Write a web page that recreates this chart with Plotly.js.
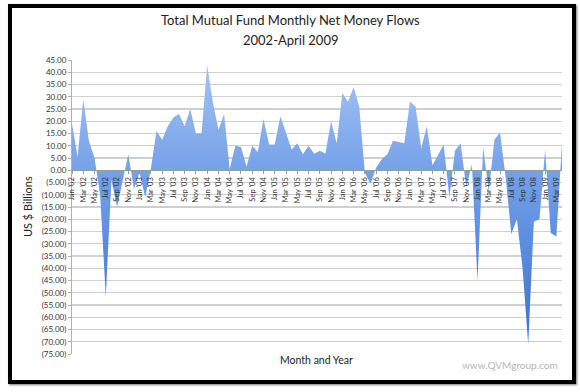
<!DOCTYPE html>
<html>
<head>
<meta charset="utf-8">
<script src="https://cdn.plot.ly/plotly-3.0.1.min.js"></script>
<style>
  html, body { margin: 0; padding: 0; background: #ffffff; }
  #wrap { position: relative; width: 580px; height: 392px; overflow: hidden; }
  #chart { position: absolute; left: 0; top: 0; width: 580px; height: 392px; }
  #frame { position: absolute; left: 8px; top: 4px; width: 560px; height: 372px;
           border: 4px solid #000; pointer-events: none; box-shadow: 1px 1px 2px #777; }
</style>
</head>
<body>
<div id="wrap">
  <div id="chart"></div>
  <div id="frame"></div>
</div>
<script>
// Month categories (Jan '02 .. Apr '09)
const months = [
  "Jan '02","Feb '02","Mar '02","Apr '02","May '02","Jun '02","Jul '02","Aug '02","Sep '02","Oct '02","Nov '02","Dec '02",
  "Jan '03","Feb '03","Mar '03","Apr '03","May '03","Jun '03","Jul '03","Aug '03","Sep '03","Oct '03","Nov '03","Dec '03",
  "Jan '04","Feb '04","Mar '04","Apr '04","May '04","Jun '04","Jul '04","Aug '04","Sep '04","Oct '04","Nov '04","Dec '04",
  "Jan '05","Feb '05","Mar '05","Apr '05","May '05","Jun '05","Jul '05","Aug '05","Sep '05","Oct '05","Nov '05","Dec '05",
  "Jan '06","Feb '06","Mar '06","Apr '06","May '06","Jun '06","Jul '06","Aug '06","Sep '06","Oct '06","Nov '06","Dec '06",
  "Jan '07","Feb '07","Mar '07","Apr '07","May '07","Jun '07","Jul '07","Aug '07","Sep '07","Oct '07","Nov '07","Dec '07",
  "Jan '08","Feb '08","Mar '08","Apr '08","May '08","Jun '08","Jul '08","Aug '08","Sep '08","Oct '08","Nov '08","Dec '08",
  "Jan '09","Feb '09","Mar '09","Apr '09"
];

// Net money flows, US $ billions, by year
const flows2002 = [19, 5.5, 29, 12, 5, -10, -51.5, -4, -15, -4.5, 6.5, -7.5];
const flows2003 = [-1, -11, 0.5, 16, 12.5, 18, 21.5, 23, 18, 25, 15, 15];
const flows2004 = [43, 28, 16.5, 23, 0.5, 10, 9.5, 1.5, 10, 7.5, 21, 10.5];
const flows2005 = [10.5, 22, 15, 8.5, 11, 6.5, 10, 6.7, 8, 6.8, 20, 11];
const flows2006 = [31.5, 28, 34, 26, -1, -5.5, 1, 4.5, 6.5, 12, 11.5, 11];
const flows2007 = [28, 26, 9, 18, 2, 6, 10.5, -11, 8, 11, -7, 2.3];
const flows2008 = [-45, 9.5, -9, 12.5, 15.5, -3, -26, -20, -40, -71, -21, -20];
const flows2009 = [8.5, -25.5, -27, 11];

const flows = [].concat(flows2002, flows2003, flows2004, flows2005,
                        flows2006, flows2007, flows2008, flows2009);

// Y axis ticks
const yTickVals = [45, 40, 35, 30, 25, 20, 15, 10, 5, 0, -5, -10, -15, -20, -25, -30,
                   -35, -40, -45, -50, -55, -60, -65, -70, -75];
const yTickText = ["45.00","40.00","35.00","30.00","25.00","20.00","15.00","10.00","5.00","0.00",
                   "(5.00)","(10.00)","(15.00)","(20.00)","(25.00)","(30.00)","(35.00)","(40.00)",
                   "(45.00)","(50.00)","(55.00)","(60.00)","(65.00)","(70.00)","(75.00)"];

// X tick labels: every second month
const xTickVals = months.filter((m, i) => i % 2 === 0);

const titleLines = ['Total Mutual Fund Monthly Net Money Flows', '2002-April 2009'];

const font = "Lato, 'Open Sans', sans-serif";

const trace = {
  type: 'scatter',
  mode: 'lines',
  x: months,
  y: flows,
  fill: 'tozeroy',
  line: { width: 0, color: '#6f9de6' },
  fillcolor: '#79a6ea',
  fillgradient: {
    type: 'vertical',
    colorscale: [[0, '#3b70cf'], [0.55, '#6d9be6'], [1, '#a4c3f3']]
  },
  hoverinfo: 'x+y'
};

const PT = 60, PB = 354, PL = 72, PR = 562;
const py = v => (PB - v) / (PB - PT);
const px = v => (v - PL) / (PR - PL);

const layout = {
  width: 580,
  height: 392,
  margin: { l: PL, r: 580 - PR, t: PT, b: 392 - PB },
  paper_bgcolor: '#ffffff',
  plot_bgcolor: '#ffffff',
  showlegend: false,
  xaxis: {
    type: 'category',
    range: [0, months.length - 1],
    anchor: 'free',
    position: 0.625,
    showgrid: false,
    zeroline: false,
    showline: true,
    linecolor: '#9a9a9a',
    linewidth: 1,
    ticks: 'outside',
    ticklen: 3,
    tickcolor: '#9a9a9a',
    tickmode: 'array',
    tickvals: xTickVals,
    ticktext: xTickVals,
    tickangle: -90,
    tickfont: { family: font, size: 7.5, color: '#333' },
    automargin: false,
    fixedrange: true
  },
  yaxis: {
    range: [-75, 45],
    tickmode: 'array',
    tickvals: yTickVals,
    ticktext: yTickText,
    showgrid: true,
    gridcolor: '#cfcfcf',
    gridwidth: 1.3,
    zeroline: false,
    showline: true,
    linecolor: '#b0b0b0',
    ticks: 'outside',
    ticklen: 3,
    tickcolor: '#b0b0b0',
    tickfont: { family: font, size: 8, color: '#333' },
    automargin: false,
    fixedrange: true
  },
  annotations: [
    {
      text: titleLines[0],
      xref: 'paper', yref: 'paper', x: px(290), y: py(20),
      xanchor: 'center', yanchor: 'middle', showarrow: false,
      font: { family: font, size: 13, color: '#222' }
    },
    {
      text: titleLines[1],
      xref: 'paper', yref: 'paper', x: px(290), y: py(40),
      xanchor: 'center', yanchor: 'middle', showarrow: false,
      font: { family: font, size: 13, color: '#222' }
    },
    {
      text: 'US $ Billions', textangle: -90,
      xref: 'paper', yref: 'paper', x: px(27), y: 0.5,
      xanchor: 'center', yanchor: 'middle', showarrow: false,
      font: { family: font, size: 11, color: '#222' }
    },
    {
      text: 'Month and Year',
      xref: 'paper', yref: 'paper', x: px(316), y: py(360),
      xanchor: 'center', yanchor: 'middle', showarrow: false,
      font: { family: font, size: 10.5, color: '#222' }
    },
    {
      text: 'www.QVMgroup.com',
      xref: 'paper', yref: 'paper', x: px(510), y: py(365),
      xanchor: 'center', yanchor: 'middle', showarrow: false,
      font: { family: font, size: 10, color: '#b5b5b5' }
    }
  ]
};

Plotly.newPlot('chart', [trace], layout, { displayModeBar: false, staticPlot: true });
</script>
</body>
</html>
